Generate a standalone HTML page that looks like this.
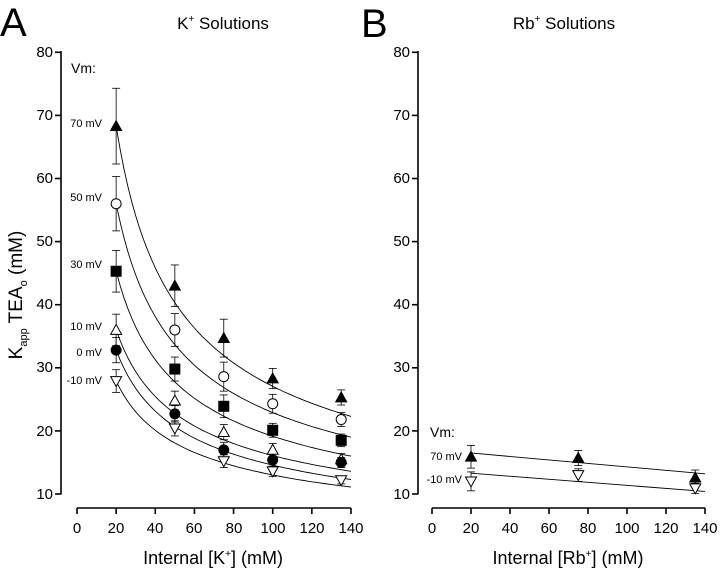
<!DOCTYPE html>
<html><head><meta charset="utf-8"><style>body{margin:0;background:#fff}svg{display:block}</style></head>
<body>
<svg id="s" width="720" height="570" xmlns="http://www.w3.org/2000/svg" font-family="Liberation Sans, sans-serif">
<text x="0" y="36" font-size="40">A</text>
<text x="361" y="37" font-size="40">B</text>
<text x="223" y="29" font-size="17" text-anchor="middle">K<tspan font-size="10" dy="-7">+</tspan><tspan dy="7"> Solutions</tspan></text>
<text x="564" y="29" font-size="17" text-anchor="middle">Rb<tspan font-size="10" dy="-7">+</tspan><tspan dy="7"> Solutions</tspan></text>
<g font-size="15" text-anchor="end">
<text x="53" y="57">80</text><text x="53" y="120">70</text><text x="53" y="183">60</text><text x="53" y="246">50</text><text x="53" y="309">40</text><text x="53" y="372">30</text><text x="53" y="436">20</text><text x="53" y="499">10</text>
<text x="410" y="57">80</text><text x="410" y="120">70</text><text x="410" y="183">60</text><text x="410" y="246">50</text><text x="410" y="309">40</text><text x="410" y="372">30</text><text x="410" y="436">20</text><text x="410" y="499">10</text>
</g>
<g font-size="15" text-anchor="middle">
<text x="77" y="533">0</text><text x="116" y="533">20</text><text x="155" y="533">40</text><text x="194" y="533">60</text><text x="234" y="533">80</text><text x="273" y="533">100</text><text x="312" y="533">120</text><text x="351" y="533">140</text>
<text x="432" y="533">0</text><text x="471" y="533">20</text><text x="510" y="533">40</text><text x="549" y="533">60</text><text x="588" y="533">80</text><text x="627" y="533">100</text><text x="666" y="533">120</text><text x="705" y="533">140</text>
</g>
<text x="213" y="564" font-size="18" text-anchor="middle">Internal [K<tspan font-size="10" dy="-7">+</tspan><tspan dy="7">] (mM)</tspan></text>
<text x="568" y="564" font-size="18" text-anchor="middle">Internal [Rb<tspan font-size="10" dy="-7">+</tspan><tspan dy="7">] (mM)</tspan></text>
<text transform="translate(22,295) rotate(-90)" font-size="19" text-anchor="middle">K<tspan font-size="11" dy="5">app</tspan><tspan dy="-5"> TEA</tspan><tspan font-size="11" dy="5">o</tspan><tspan dy="-5"> (mM)</tspan></text>
<text x="71" y="73" font-size="14">Vm:</text>
<g font-size="11" text-anchor="end">
<text x="102" y="127">70 mV</text><text x="102" y="201">50 mV</text><text x="102" y="268">30 mV</text><text x="102" y="330">10 mV</text><text x="102" y="356">0 mV</text><text x="102" y="384">-10 mV</text>
<text x="462" y="460">70 mV</text><text x="462" y="483">-10 mV</text>
</g>
<text x="430" y="437" font-size="14">Vm:</text>
<g id="g" stroke="#000" fill="none"></g>
</svg>
<script>
var g=document.getElementById('g'),h='';
function Y(v){return 494-(v-10)*6.31}
function XA(v){return 77+v*1.957}
function XB(v){return 432+v*1.95}
function L(x1,y1,x2,y2,w){h+='<line x1="'+x1+'" y1="'+y1+'" x2="'+x2+'" y2="'+y2+'" stroke-width="'+(w||1)+'"/>'}
[[61,XA],[418,XB]].forEach(function(a){
 L(a[0],51,a[0],494.5,1.6);
 for(var v=10;v<=80;v+=10)L(a[0]-6,Y(v),a[0],Y(v),1.6);
 var f=a[1];L(f(0),508,f(140),508,1.6);
 for(var v=0;v<=140;v+=20)L(f(v),508,f(v),514,1.6);
});
function mk(t,x,y){var s=5.5;
 if(t=='tf'||t=='to')h+='<polygon points="'+x+','+(y-s)+' '+(x-s)+','+(y+s*0.8)+' '+(x+s)+','+(y+s*0.8)+'" fill="'+(t=='tf'?'#000':'#fff')+'"/>';
 if(t=='di')h+='<polygon points="'+x+','+(y+s)+' '+(x-s)+','+(y-s*0.8)+' '+(x+s)+','+(y-s*0.8)+'" fill="#fff"/>';
 if(t=='co')h+='<circle cx="'+x+'" cy="'+y+'" r="5" fill="#fff"/>';
 if(t=='cf')h+='<circle cx="'+x+'" cy="'+y+'" r="5" fill="#000"/>';
 if(t=='sq')h+='<rect x="'+(x-5)+'" y="'+(y-5)+'" width="10" height="10" fill="#000"/>';
}
var xs=[20,50,75,100,135];
var A=[
 ['tf',[68.3,43,34.7,28.3,25.3],[6,3.3,3,1.6,1.2],22.3],
 ['co',[56,36,28.6,24.3,21.8],[4.3,2.6,2.3,1.5,1.1],19.0],
 ['sq',[45.3,29.8,23.9,20.1,18.5],[3.3,1.9,1.8,1.1,1.0],16.0],
 ['to',[36,24.8,19.8,17,15.5],[2.5,1.5,1.2,1,0.9],13.6],
 ['cf',[32.8,22.7,17,15.4,15],[2,1.3,1.2,1,0.8],12.3],
 ['di',[27.9,20.4,15.2,13.6,12.2],[1.8,1.2,1,0.8,0.6],11.1]];
A.forEach(function(s){
 var y0=s[1][0],p=Math.log(y0/s[3])/Math.log(7),d='';
 for(var x=20;x<=140;x+=2){d+=(x==20?'M':'L')+XA(x).toFixed(1)+','+Y(y0*Math.pow(x/20,-p)).toFixed(1)}
 h+='<path d="'+d+'" stroke-width="0.9"/>';
 xs.forEach(function(x,i){var X=XA(x),v=s[1][i],e=s[2][i];
  L(X,Y(v+e),X,Y(v-e),0.8);L(X-4,Y(v+e),X+4,Y(v+e),0.8);L(X-4,Y(v-e),X+4,Y(v-e),0.8);});
});
A.forEach(function(s){xs.forEach(function(x,i){mk(s[0],XA(x),Y(s[1][i]))})});
L(XB(20),Y(16.5),XB(140),Y(13.2),0.9);L(XB(20),Y(13.3),XB(140),Y(10.4),0.9);
var bx=[20,75,135],B=[['tf',[15.9,15.7,12.6],[1.8,1.2,1.2]],['di',[12,13,10.9],[1.5,1,0.8]]];
B.forEach(function(s){bx.forEach(function(x,i){var X=XB(x),v=s[1][i],e=s[2][i];
 L(X,Y(v+e),X,Y(v-e),0.8);L(X-4,Y(v+e),X+4,Y(v+e),0.8);L(X-4,Y(v-e),X+4,Y(v-e),0.8);})});
B.forEach(function(s){bx.forEach(function(x,i){mk(s[0],XB(x),Y(s[1][i]))})});
g.innerHTML=h;
</script>
</body></html>
